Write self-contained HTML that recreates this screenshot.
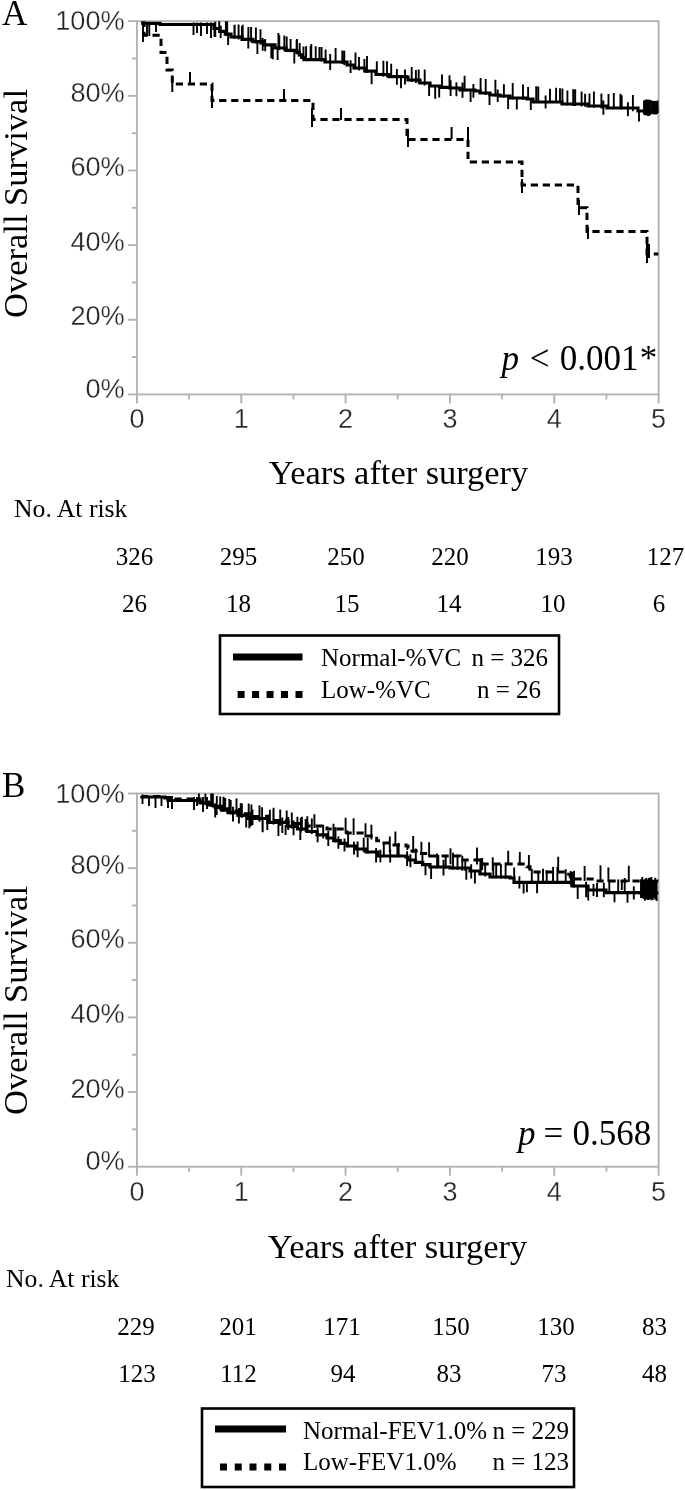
<!DOCTYPE html>
<html><head><meta charset="utf-8"><style>
html,body{margin:0;padding:0;background:#fff;width:685px;height:1490px;overflow:hidden}
svg{display:block} body{filter:grayscale(1)}
</style></head><body>
<svg width="685" height="1490" viewBox="0 0 685 1490">
<rect width="685" height="1490" fill="#fff"/>
<defs><clipPath id="ca"><rect x="136.9" y="21.2" width="521.7" height="373.2"/></clipPath><clipPath id="cb"><rect x="136.9" y="793.5" width="521.7" height="373.2"/></clipPath></defs>
<rect x="136.9" y="21.2" width="521.7" height="373.2" fill="none" stroke="#b2b2b2" stroke-width="1.9"/>
<line x1="127.9" y1="394.40" x2="136.9" y2="394.40" stroke="#b2b2b2" stroke-width="1.9"/>
<line x1="131.9" y1="357.08" x2="136.9" y2="357.08" stroke="#b2b2b2" stroke-width="1.9"/>
<line x1="127.9" y1="319.76" x2="136.9" y2="319.76" stroke="#b2b2b2" stroke-width="1.9"/>
<line x1="131.9" y1="282.44" x2="136.9" y2="282.44" stroke="#b2b2b2" stroke-width="1.9"/>
<line x1="127.9" y1="245.12" x2="136.9" y2="245.12" stroke="#b2b2b2" stroke-width="1.9"/>
<line x1="131.9" y1="207.80" x2="136.9" y2="207.80" stroke="#b2b2b2" stroke-width="1.9"/>
<line x1="127.9" y1="170.48" x2="136.9" y2="170.48" stroke="#b2b2b2" stroke-width="1.9"/>
<line x1="131.9" y1="133.16" x2="136.9" y2="133.16" stroke="#b2b2b2" stroke-width="1.9"/>
<line x1="127.9" y1="95.84" x2="136.9" y2="95.84" stroke="#b2b2b2" stroke-width="1.9"/>
<line x1="131.9" y1="58.52" x2="136.9" y2="58.52" stroke="#b2b2b2" stroke-width="1.9"/>
<line x1="127.9" y1="21.20" x2="136.9" y2="21.20" stroke="#b2b2b2" stroke-width="1.9"/>
<line x1="136.90" y1="394.4" x2="136.90" y2="403.4" stroke="#b2b2b2" stroke-width="1.9"/>
<line x1="189.07" y1="394.4" x2="189.07" y2="399.4" stroke="#b2b2b2" stroke-width="1.9"/>
<line x1="241.24" y1="394.4" x2="241.24" y2="403.4" stroke="#b2b2b2" stroke-width="1.9"/>
<line x1="293.41" y1="394.4" x2="293.41" y2="399.4" stroke="#b2b2b2" stroke-width="1.9"/>
<line x1="345.58" y1="394.4" x2="345.58" y2="403.4" stroke="#b2b2b2" stroke-width="1.9"/>
<line x1="397.75" y1="394.4" x2="397.75" y2="399.4" stroke="#b2b2b2" stroke-width="1.9"/>
<line x1="449.92" y1="394.4" x2="449.92" y2="403.4" stroke="#b2b2b2" stroke-width="1.9"/>
<line x1="502.09" y1="394.4" x2="502.09" y2="399.4" stroke="#b2b2b2" stroke-width="1.9"/>
<line x1="554.26" y1="394.4" x2="554.26" y2="403.4" stroke="#b2b2b2" stroke-width="1.9"/>
<line x1="606.43" y1="394.4" x2="606.43" y2="399.4" stroke="#b2b2b2" stroke-width="1.9"/>
<line x1="658.60" y1="394.4" x2="658.60" y2="403.4" stroke="#b2b2b2" stroke-width="1.9"/>
<text x="124.8" y="397.70" text-anchor="end" font-family='"Liberation Sans", sans-serif' font-size="27.2" fill="#262626" stroke="#fff" stroke-width="0.3">0%</text>
<text x="124.8" y="325.46" text-anchor="end" font-family='"Liberation Sans", sans-serif' font-size="27.2" fill="#262626" stroke="#fff" stroke-width="0.3">20%</text>
<text x="124.8" y="250.82" text-anchor="end" font-family='"Liberation Sans", sans-serif' font-size="27.2" fill="#262626" stroke="#fff" stroke-width="0.3">40%</text>
<text x="124.8" y="176.18" text-anchor="end" font-family='"Liberation Sans", sans-serif' font-size="27.2" fill="#262626" stroke="#fff" stroke-width="0.3">60%</text>
<text x="124.8" y="101.54" text-anchor="end" font-family='"Liberation Sans", sans-serif' font-size="27.2" fill="#262626" stroke="#fff" stroke-width="0.3">80%</text>
<text x="124.8" y="30.20" text-anchor="end" font-family='"Liberation Sans", sans-serif' font-size="27.2" fill="#262626" stroke="#fff" stroke-width="0.3">100%</text>
<text x="136.90" y="428.4" text-anchor="middle" font-family='"Liberation Sans", sans-serif' font-size="27" fill="#262626" stroke="#fff" stroke-width="0.3">0</text>
<text x="241.24" y="428.4" text-anchor="middle" font-family='"Liberation Sans", sans-serif' font-size="27" fill="#262626" stroke="#fff" stroke-width="0.3">1</text>
<text x="345.58" y="428.4" text-anchor="middle" font-family='"Liberation Sans", sans-serif' font-size="27" fill="#262626" stroke="#fff" stroke-width="0.3">2</text>
<text x="449.92" y="428.4" text-anchor="middle" font-family='"Liberation Sans", sans-serif' font-size="27" fill="#262626" stroke="#fff" stroke-width="0.3">3</text>
<text x="554.26" y="428.4" text-anchor="middle" font-family='"Liberation Sans", sans-serif' font-size="27" fill="#262626" stroke="#fff" stroke-width="0.3">4</text>
<text x="658.60" y="428.4" text-anchor="middle" font-family='"Liberation Sans", sans-serif' font-size="27" fill="#262626" stroke="#fff" stroke-width="0.3">5</text>
<rect x="136.9" y="793.5" width="521.7" height="373.1999999999998" fill="none" stroke="#b2b2b2" stroke-width="1.9"/>
<line x1="127.9" y1="1166.70" x2="136.9" y2="1166.70" stroke="#b2b2b2" stroke-width="1.9"/>
<line x1="131.9" y1="1129.38" x2="136.9" y2="1129.38" stroke="#b2b2b2" stroke-width="1.9"/>
<line x1="127.9" y1="1092.06" x2="136.9" y2="1092.06" stroke="#b2b2b2" stroke-width="1.9"/>
<line x1="131.9" y1="1054.74" x2="136.9" y2="1054.74" stroke="#b2b2b2" stroke-width="1.9"/>
<line x1="127.9" y1="1017.42" x2="136.9" y2="1017.42" stroke="#b2b2b2" stroke-width="1.9"/>
<line x1="131.9" y1="980.10" x2="136.9" y2="980.10" stroke="#b2b2b2" stroke-width="1.9"/>
<line x1="127.9" y1="942.78" x2="136.9" y2="942.78" stroke="#b2b2b2" stroke-width="1.9"/>
<line x1="131.9" y1="905.46" x2="136.9" y2="905.46" stroke="#b2b2b2" stroke-width="1.9"/>
<line x1="127.9" y1="868.14" x2="136.9" y2="868.14" stroke="#b2b2b2" stroke-width="1.9"/>
<line x1="131.9" y1="830.82" x2="136.9" y2="830.82" stroke="#b2b2b2" stroke-width="1.9"/>
<line x1="127.9" y1="793.50" x2="136.9" y2="793.50" stroke="#b2b2b2" stroke-width="1.9"/>
<line x1="136.90" y1="1166.6999999999998" x2="136.90" y2="1175.6999999999998" stroke="#b2b2b2" stroke-width="1.9"/>
<line x1="189.07" y1="1166.6999999999998" x2="189.07" y2="1171.6999999999998" stroke="#b2b2b2" stroke-width="1.9"/>
<line x1="241.24" y1="1166.6999999999998" x2="241.24" y2="1175.6999999999998" stroke="#b2b2b2" stroke-width="1.9"/>
<line x1="293.41" y1="1166.6999999999998" x2="293.41" y2="1171.6999999999998" stroke="#b2b2b2" stroke-width="1.9"/>
<line x1="345.58" y1="1166.6999999999998" x2="345.58" y2="1175.6999999999998" stroke="#b2b2b2" stroke-width="1.9"/>
<line x1="397.75" y1="1166.6999999999998" x2="397.75" y2="1171.6999999999998" stroke="#b2b2b2" stroke-width="1.9"/>
<line x1="449.92" y1="1166.6999999999998" x2="449.92" y2="1175.6999999999998" stroke="#b2b2b2" stroke-width="1.9"/>
<line x1="502.09" y1="1166.6999999999998" x2="502.09" y2="1171.6999999999998" stroke="#b2b2b2" stroke-width="1.9"/>
<line x1="554.26" y1="1166.6999999999998" x2="554.26" y2="1175.6999999999998" stroke="#b2b2b2" stroke-width="1.9"/>
<line x1="606.43" y1="1166.6999999999998" x2="606.43" y2="1171.6999999999998" stroke="#b2b2b2" stroke-width="1.9"/>
<line x1="658.60" y1="1166.6999999999998" x2="658.60" y2="1175.6999999999998" stroke="#b2b2b2" stroke-width="1.9"/>
<text x="124.8" y="1170.00" text-anchor="end" font-family='"Liberation Sans", sans-serif' font-size="27.2" fill="#262626" stroke="#fff" stroke-width="0.3">0%</text>
<text x="124.8" y="1097.76" text-anchor="end" font-family='"Liberation Sans", sans-serif' font-size="27.2" fill="#262626" stroke="#fff" stroke-width="0.3">20%</text>
<text x="124.8" y="1023.12" text-anchor="end" font-family='"Liberation Sans", sans-serif' font-size="27.2" fill="#262626" stroke="#fff" stroke-width="0.3">40%</text>
<text x="124.8" y="948.48" text-anchor="end" font-family='"Liberation Sans", sans-serif' font-size="27.2" fill="#262626" stroke="#fff" stroke-width="0.3">60%</text>
<text x="124.8" y="873.84" text-anchor="end" font-family='"Liberation Sans", sans-serif' font-size="27.2" fill="#262626" stroke="#fff" stroke-width="0.3">80%</text>
<text x="124.8" y="802.50" text-anchor="end" font-family='"Liberation Sans", sans-serif' font-size="27.2" fill="#262626" stroke="#fff" stroke-width="0.3">100%</text>
<text x="136.90" y="1200.6999999999998" text-anchor="middle" font-family='"Liberation Sans", sans-serif' font-size="27" fill="#262626" stroke="#fff" stroke-width="0.3">0</text>
<text x="241.24" y="1200.6999999999998" text-anchor="middle" font-family='"Liberation Sans", sans-serif' font-size="27" fill="#262626" stroke="#fff" stroke-width="0.3">1</text>
<text x="345.58" y="1200.6999999999998" text-anchor="middle" font-family='"Liberation Sans", sans-serif' font-size="27" fill="#262626" stroke="#fff" stroke-width="0.3">2</text>
<text x="449.92" y="1200.6999999999998" text-anchor="middle" font-family='"Liberation Sans", sans-serif' font-size="27" fill="#262626" stroke="#fff" stroke-width="0.3">3</text>
<text x="554.26" y="1200.6999999999998" text-anchor="middle" font-family='"Liberation Sans", sans-serif' font-size="27" fill="#262626" stroke="#fff" stroke-width="0.3">4</text>
<text x="658.60" y="1200.6999999999998" text-anchor="middle" font-family='"Liberation Sans", sans-serif' font-size="27" fill="#262626" stroke="#fff" stroke-width="0.3">5</text>
<text x="2" y="24.5" font-family='"Liberation Serif", serif' font-size="35" fill="#000">A</text>
<text x="2" y="797" font-family='"Liberation Serif", serif' font-size="35" fill="#000">B</text>
<text x="0" y="0" transform="translate(27,203.5) rotate(-90)" text-anchor="middle" font-family='"Liberation Serif", serif' font-size="34.5" fill="#000">Overall Survival</text>
<text x="0" y="0" transform="translate(27,1000.5) rotate(-90)" text-anchor="middle" font-family='"Liberation Serif", serif' font-size="34.5" fill="#000">Overall Survival</text>
<text x="398.5" y="484" text-anchor="middle" font-family='"Liberation Serif", serif' font-size="34.4" fill="#000">Years after surgery</text>
<text x="397.5" y="1258" text-anchor="middle" font-family='"Liberation Serif", serif' font-size="34.4" fill="#000">Years after surgery</text>
<text x="14" y="517" font-family='"Liberation Serif", serif' font-size="25.7" fill="#000">No. At risk</text>
<text x="6" y="1287" font-family='"Liberation Serif", serif' font-size="25.7" fill="#000">No. At risk</text>
<text x="134.5" y="564.7" text-anchor="middle" font-family='"Liberation Serif", serif' font-size="25" fill="#000">326</text>
<text x="238.5" y="564.7" text-anchor="middle" font-family='"Liberation Serif", serif' font-size="25" fill="#000">295</text>
<text x="346" y="564.7" text-anchor="middle" font-family='"Liberation Serif", serif' font-size="25" fill="#000">250</text>
<text x="450" y="564.7" text-anchor="middle" font-family='"Liberation Serif", serif' font-size="25" fill="#000">220</text>
<text x="554" y="564.7" text-anchor="middle" font-family='"Liberation Serif", serif' font-size="25" fill="#000">193</text>
<text x="665.5" y="564.7" text-anchor="middle" font-family='"Liberation Serif", serif' font-size="25" fill="#000">127</text>
<text x="134.5" y="612" text-anchor="middle" font-family='"Liberation Serif", serif' font-size="25" fill="#000">26</text>
<text x="238.5" y="612" text-anchor="middle" font-family='"Liberation Serif", serif' font-size="25" fill="#000">18</text>
<text x="347" y="612" text-anchor="middle" font-family='"Liberation Serif", serif' font-size="25" fill="#000">15</text>
<text x="449" y="612" text-anchor="middle" font-family='"Liberation Serif", serif' font-size="25" fill="#000">14</text>
<text x="553" y="612" text-anchor="middle" font-family='"Liberation Serif", serif' font-size="25" fill="#000">10</text>
<text x="659" y="612" text-anchor="middle" font-family='"Liberation Serif", serif' font-size="25" fill="#000">6</text>
<text x="136" y="1334.7" text-anchor="middle" font-family='"Liberation Serif", serif' font-size="25" fill="#000">229</text>
<text x="238" y="1334.7" text-anchor="middle" font-family='"Liberation Serif", serif' font-size="25" fill="#000">201</text>
<text x="342" y="1334.7" text-anchor="middle" font-family='"Liberation Serif", serif' font-size="25" fill="#000">171</text>
<text x="451" y="1334.7" text-anchor="middle" font-family='"Liberation Serif", serif' font-size="25" fill="#000">150</text>
<text x="556" y="1334.7" text-anchor="middle" font-family='"Liberation Serif", serif' font-size="25" fill="#000">130</text>
<text x="654.5" y="1334.7" text-anchor="middle" font-family='"Liberation Serif", serif' font-size="25" fill="#000">83</text>
<text x="137" y="1382" text-anchor="middle" font-family='"Liberation Serif", serif' font-size="25" fill="#000">123</text>
<text x="238.5" y="1382" text-anchor="middle" font-family='"Liberation Serif", serif' font-size="25" fill="#000">112</text>
<text x="343" y="1382" text-anchor="middle" font-family='"Liberation Serif", serif' font-size="25" fill="#000">94</text>
<text x="449" y="1382" text-anchor="middle" font-family='"Liberation Serif", serif' font-size="25" fill="#000">83</text>
<text x="554" y="1382" text-anchor="middle" font-family='"Liberation Serif", serif' font-size="25" fill="#000">73</text>
<text x="654.5" y="1382" text-anchor="middle" font-family='"Liberation Serif", serif' font-size="25" fill="#000">48</text>
<text x="501.5" y="370" font-family='"Liberation Serif", serif' font-size="35" fill="#000" font-style="italic">p</text>
<text x="529.7" y="370" font-family='"Liberation Serif", serif' font-size="35" fill="#000">&lt;</text>
<text x="559.8" y="370" font-family='"Liberation Serif", serif' font-size="35" fill="#000">0.001</text>
<text x="639.7" y="370" font-family='"Liberation Serif", serif' font-size="35" fill="#000">*</text>
<text x="518" y="1145" font-family='"Liberation Serif", serif' font-size="35" fill="#000" font-style="italic">p</text>
<text x="543.5" y="1145" font-family='"Liberation Serif", serif' font-size="35" fill="#000">=</text>
<text x="572.5" y="1145" font-family='"Liberation Serif", serif' font-size="35" fill="#000">0.568</text>
<rect x="220" y="635.5" width="339" height="78.5" fill="none" stroke="#000" stroke-width="2.6"/>
<rect x="233" y="653.5" width="69.5" height="7" fill="#000"/>
<rect x="237.60" y="691.0" width="7" height="7" fill="#000"/>
<rect x="252.07" y="691.0" width="7" height="7" fill="#000"/>
<rect x="266.55" y="691.0" width="7" height="7" fill="#000"/>
<rect x="281.02" y="691.0" width="7" height="7" fill="#000"/>
<rect x="295.50" y="691.0" width="7" height="7" fill="#000"/>
<text x="321" y="666" font-family='"Liberation Serif", serif' font-size="25" fill="#000">Normal-%VC</text>
<text x="321" y="698" font-family='"Liberation Serif", serif' font-size="25" fill="#000">Low-%VC</text>
<text x="548" y="666" text-anchor="end" font-family='"Liberation Serif", serif' font-size="25" fill="#000">n = 326</text>
<text x="541" y="698" text-anchor="end" font-family='"Liberation Serif", serif' font-size="25" fill="#000">n = 26</text>
<rect x="202" y="1408.5" width="372" height="78.5" fill="none" stroke="#000" stroke-width="2.6"/>
<rect x="215" y="1425.5" width="71" height="7" fill="#000"/>
<rect x="220.00" y="1463.5" width="7" height="7" fill="#000"/>
<rect x="234.75" y="1463.5" width="7" height="7" fill="#000"/>
<rect x="249.50" y="1463.5" width="7" height="7" fill="#000"/>
<rect x="264.25" y="1463.5" width="7" height="7" fill="#000"/>
<rect x="279.00" y="1463.5" width="7" height="7" fill="#000"/>
<text x="303" y="1439" font-family='"Liberation Serif", serif' font-size="25" fill="#000">Normal-FEV1.0%</text>
<text x="303" y="1470" font-family='"Liberation Serif", serif' font-size="25" fill="#000">Low-FEV1.0%</text>
<text x="569" y="1439" text-anchor="end" font-family='"Liberation Serif", serif' font-size="25" fill="#000">n = 229</text>
<text x="569" y="1470" text-anchor="end" font-family='"Liberation Serif", serif' font-size="25" fill="#000">n = 123</text>
<g clip-path="url(#ca)">
<path d="M141.3,23.4 160.0,23.4 160.0,23.5 160.0,23.5 160.0,23.5 160.0,24.5 194.0,24.5 214.0,24.5 214.0,24.5 214.0,28.5 219.7,28.5 219.7,31.3 225.3,31.3 225.3,34.2 231.0,34.2 231.0,34.2 231.0,37.0 242.0,37.0 242.0,39.3 253.0,39.3 253.0,39.3 253.0,41.6 264.0,41.6 264.0,44.8 275.0,44.8 275.0,44.8 275.0,48.0 286.0,48.0 286.0,50.3 297.0,50.3 297.0,50.3 297.0,52.6 299.3,52.6 299.3,54.9 301.7,54.9 301.7,57.3 304.0,57.3 304.0,57.3 304.0,59.6 320.0,59.6 325.0,59.6 325.0,59.6 325.0,62.0 340.0,62.0 347.0,62.0 347.0,65.0 354.0,65.0 354.0,65.0 354.0,68.0 365.0,68.0 365.0,71.2 376.0,71.2 376.0,71.2 376.0,74.5 389.0,74.5 389.0,74.5 389.0,76.7 406.0,76.7 406.0,77.0 408.0,77.0 408.0,77.0 408.0,80.0 420.0,80.0 420.0,80.0 420.0,83.0 430.0,83.0 430.0,83.0 430.0,86.0 440.0,86.0 440.0,86.0 440.0,87.4 450.0,87.4 450.0,87.4 450.0,88.0 460.0,88.0 460.0,88.0 460.0,90.0 475.0,90.0 475.0,90.0 475.0,91.0 480.0,91.0 480.0,91.0 480.0,93.0 490.0,93.0 490.0,93.0 490.0,95.0 500.0,95.0 500.0,95.0 500.0,96.0 510.0,96.0 510.0,96.0 510.0,98.0 527.0,98.0 527.0,98.0 527.0,99.0 532.0,99.0 533.0,99.0 533.0,99.0 533.0,102.0 560.0,102.0 562.0,102.0 562.0,102.0 562.0,104.0 588.0,104.0 588.0,104.0 588.0,106.0 607.0,106.0 607.0,106.0 607.0,108.0 620.0,108.0 638.0,108.0 638.0,108.0 638.0,111.0 658.0,111.0 658.0,111.0 658.0,111.5" fill="none" stroke="#000" stroke-width="3.2" stroke-linejoin="miter"/>
<path d="M215.3,21.4V36.9M219.2,17.4V32.1M225.9,18.9V35.4M228.1,34.6V45.0M234.7,24.8V38.8M238.6,24.6V39.6M241.9,26.2V40.3M248.4,27.0V41.6M251.1,26.9V42.2M257.4,41.9V54.0M260.5,29.3V44.8M265.2,39.0V51.3M271.3,45.9V58.2M277.6,47.5V59.9M279.3,35.3V49.9M284.3,35.4V50.9M290.6,39.0V52.3M296.6,39.9V53.5M299.7,43.1V56.3M303.5,46.5V60.1M310.6,46.1V60.6M311.3,44.1V60.6M319.4,47.0V60.6M321.6,47.0V61.4M325.6,49.5V63.0M330.2,54.0V70.0M335.6,48.1V63.0M342.3,50.6V64.0M344.3,50.8V64.9M350.6,60.2V72.9M355.5,52.6V69.4M359.0,56.9V70.5M364.4,59.0V72.1M367.0,55.9V72.8M371.6,72.2V84.3M376.8,61.2V75.6M383.4,60.7V76.8M387.0,61.2V77.4M391.2,63.8V77.7M396.9,68.9V84.8M401.0,75.9V88.3M405.0,69.5V84.5M411.7,66.9V81.9M415.9,69.9V83.0M418.7,69.6V83.7M424.7,69.6V85.4M429.1,84.7V96.1M435.2,85.7V98.7M439.2,86.3V97.4M442.0,74.6V88.5M449.5,75.2V89.0M450.6,80.3V95.9M456.4,82.3V96.2M462.5,82.6V97.8M464.6,75.7V91.3M470.6,89.7V102.1M473.4,83.9V97.8M480.6,78.0V94.1M485.7,78.9V95.1M489.5,93.9V105.1M495.4,79.8V96.5M497.7,89.4V102.1M503.9,84.2V97.8M508.1,96.6V109.0M512.7,82.9V99.2M516.8,97.4V109.4M523.0,84.6V99.8M528.1,86.9V100.0M530.8,98.0V109.9M536.2,86.3V103.0M538.3,86.5V103.0M545.6,95.6V108.4M550.0,88.8V103.0M556.1,87.7V103.0M560.0,88.3V103.0M562.4,88.4V105.0M567.4,90.6V105.4M573.2,89.2V105.9M575.2,89.3V106.0M581.6,91.4V106.5M585.1,93.7V106.8M589.5,93.4V107.2M593.9,91.4V107.6M601.4,93.5V108.4M603.4,100.5V114.7M608.5,93.9V109.0M613.8,92.9V109.0M620.4,93.8V109.1M621.7,95.2V109.3M627.9,102.3V116.3M632.9,95.1V111.2M639.0,110.0V121.4M220.7,25.6V38.1M227.2,21.3V36.1M234.4,24.7V38.7M242.7,24.8V40.4M248.3,32.8V48.4M255.9,27.6V43.5M262.7,38.1V50.7M272.8,46.4V59.3M278.4,32.9V49.7M286.7,36.5V51.4M294.3,51.0V63.5M297.0,38.9V53.6M306.1,46.2V60.6M315.7,46.3V60.6M193.5,22.5V35.0M197.0,22.5V33.0M201.0,22.5V36.0M207.0,22.5V34.0M211.0,22.5V38.0M214.5,22.5V37.0M143.0,24.0V42.0M147.0,24.0V36.0M149.3,24.0V36.0M156.0,25.0V32.0M644.0,100.6V114.5M645.0,100.3V115.2M646.0,99.5V115.0M647.0,100.4V115.3M648.0,99.6V116.0M649.0,100.7V116.0M650.0,99.7V114.9M652.0,100.6V114.2M653.0,100.9V113.2M654.0,101.1V114.4M655.0,101.7V113.4M656.0,100.7V114.4M657.0,101.4V114.1M658.0,100.6V113.1" stroke="#000" stroke-width="1.9" fill="none"/>
<path d="M141.3,22.8 144.0,22.5 144.0,35.3 161.0,35.3 161.0,52.5 167.0,52.5 167.0,70.0 172.3,70.0 172.3,84.0 212.0,84.0 212.0,100.6 313.0,100.6 313.0,119.4 407.0,119.4 407.0,139.4 468.0,139.4 468.0,162.0 522.0,162.0 522.0,185.0 578.0,185.0 578.0,207.7 587.0,207.7 587.0,231.4 647.0,231.4 647.0,254.0 658.5,254.0" fill="none" stroke="#000" stroke-width="3" stroke-dasharray="7.2,4.8" stroke-linejoin="miter"/>
<path d="M172.3,78.0V92.0M190.0,72.0V84.0M212.0,88.0V108.0M284.0,89.0V101.0M312.0,108.0V127.0M341.0,108.0V120.0M408.0,129.0V147.0M451.6,127.0V139.0M468.0,127.0V147.0M522.0,179.0V193.0M579.0,200.0V215.0M588.0,227.0V239.0M647.0,239.0V263.0M649.0,244.0V258.0" stroke="#000" stroke-width="2" fill="none"/>
</g>
<g clip-path="url(#cb)">
<path d="M141.5,796.0 142.0,796.0 142.0,796.0 142.0,796.5 165.0,796.5 165.0,796.5 165.0,797.5 176.0,797.5 176.0,797.5 176.0,799.0 193.0,799.0 200.0,799.0 200.0,799.0 200.0,802.0 209.0,802.0 209.0,802.0 209.0,804.0 215.3,804.0 215.3,806.3 221.7,806.3 221.7,808.7 228.0,808.7 228.0,808.7 228.0,811.0 238.0,811.0 238.0,813.8 248.0,813.8 248.0,813.8 248.0,816.5 268.0,816.5 268.0,816.5 268.0,820.5 288.0,820.5 288.0,820.5 288.0,823.5 307.0,823.5 307.0,823.5 307.0,826.0 327.0,826.0 327.0,826.0 327.0,829.0 347.0,829.0 347.0,829.0 347.0,833.0 366.0,833.0 366.0,833.0 366.0,836.0 371.3,836.0 371.3,838.3 376.7,838.3 376.7,840.7 382.0,840.7 382.0,840.7 382.0,843.0 394.0,843.0 394.0,843.0 394.0,845.0 406.0,845.0 406.0,845.0 406.0,846.0 408.0,846.0 408.0,848.5 410.0,848.5 410.0,848.5 410.0,851.0 420.0,851.0 420.0,853.5 430.0,853.5 430.0,853.5 430.0,856.0 450.0,856.0 460.0,856.0 460.0,856.0 460.0,860.0 480.0,860.0 480.0,860.0 480.0,864.0 524.0,864.0 527.0,864.0 527.0,866.7 530.0,866.7 530.0,869.3 533.0,869.3 533.0,869.3 533.0,872.0 567.0,872.0 568.7,872.0 568.7,874.3 570.3,874.3 570.3,876.7 572.0,876.7 572.0,876.7 572.0,879.0 598.0,879.0 598.0,879.0 598.0,881.0 640.0,881.0 658.5,881.0" fill="none" stroke="#000" stroke-width="3" stroke-dasharray="7.2,4.8" stroke-linejoin="miter"/>
<path d="M141.5,796.5 142.0,796.5 142.0,796.5 142.0,797.0 165.0,797.0 165.0,797.0 165.0,798.0 168.0,798.0 168.0,798.0 168.0,800.5 193.0,800.5 200.0,800.5 200.0,800.5 200.0,803.0 209.0,803.0 209.0,803.0 209.0,805.0 215.3,805.0 215.3,807.5 221.7,807.5 221.7,810.1 228.0,810.1 228.0,810.1 228.0,812.6 238.0,812.6 238.0,815.5 248.0,815.5 248.0,815.5 248.0,818.5 268.0,818.5 268.0,818.5 268.0,822.4 288.0,822.4 288.0,822.4 288.0,826.4 297.5,826.4 297.5,829.0 307.0,829.0 307.0,829.0 307.0,831.5 317.0,831.5 317.0,834.8 327.0,834.8 327.0,834.8 327.0,838.0 333.7,838.0 333.7,840.7 340.3,840.7 340.3,843.3 347.0,843.3 347.0,843.3 347.0,846.0 356.5,846.0 356.5,849.0 366.0,849.0 366.0,849.0 366.0,852.0 378.0,852.0 378.0,852.0 378.0,856.0 397.0,856.0 406.0,856.0 406.0,856.0 406.0,857.0 408.0,857.0 408.0,857.0 408.0,860.0 415.3,860.0 415.3,862.3 422.7,862.3 422.7,864.7 430.0,864.7 430.0,864.7 430.0,867.0 450.0,867.0 450.0,867.0 450.0,868.0 470.0,868.0 470.0,868.0 470.0,871.0 480.0,871.0 480.0,874.0 490.0,874.0 490.0,874.0 490.0,877.0 510.0,877.0 510.0,877.0 510.0,878.0 514.0,878.0 514.0,878.0 514.0,882.4 570.0,882.4 572.0,882.4 572.0,882.4 572.0,886.0 588.0,886.0 588.0,886.0 588.0,890.0 605.0,890.0 606.0,890.0 606.0,890.0 606.0,892.7 640.0,892.7 640.0,893.0 658.5,893.0" fill="none" stroke="#000" stroke-width="3.2" stroke-linejoin="miter"/>
<path d="M142.5,796.0V804.0M149.0,796.0V806.0M155.5,796.0V808.0M161.5,796.0V806.0M168.0,796.0V808.0M172.0,796.0V809.0M194.0,797.0V810.0M197.0,797.0V806.0M203.0,797.0V812.0M207.0,797.0V809.0M212.9,792.9V807.5M216.8,796.0V809.1M220.2,796.6V810.5M229.3,798.9V814.0M233.0,806.8V821.4M238.9,808.0V823.6M240.7,803.0V817.3M249.3,817.8V828.2M250.8,811.8V826.3M259.5,805.4V821.7M262.7,820.4V832.3M267.3,814.6V829.9M273.4,809.4V824.5M280.2,809.5V825.8M282.3,817.6V832.9M286.7,810.6V827.1M293.6,820.5V835.3M297.4,816.8V829.9M301.9,816.7V831.1M307.3,816.2V832.6M311.8,818.6V834.1M317.6,827.6V842.3M323.2,824.8V837.8M328.3,831.0V846.0M335.5,827.2V842.4M338.4,836.4V848.7M344.5,838.5V851.5M348.1,833.3V847.3M354.0,841.8V854.6M357.6,841.4V857.3M363.7,837.7V852.3M367.7,837.8V853.6M376.1,848.1V862.6M380.4,849.8V862.2M383.8,843.0V857.0M390.2,849.4V862.6M397.4,844.0V857.0M398.7,843.1V857.2M407.1,851.2V866.0M410.4,854.2V867.3M415.8,848.6V863.5M422.4,852.1V865.6M425.5,864.6V875.2M431.1,866.1V878.9M437.1,853.5V868.4M443.5,859.7V875.6M445.7,854.7V868.8M453.0,852.7V869.4M457.5,854.8V870.1M462.3,855.7V870.8M466.3,869.4V879.8M471.2,864.3V878.4M474.9,871.5V883.6M480.4,858.5V875.1M485.2,863.5V876.6M493.3,863.2V878.2M496.2,864.1V878.3M500.9,864.2V878.5M505.6,862.4V878.8M514.2,867.4V883.4M519.4,876.2V888.6M523.6,881.4V893.5M526.9,881.4V892.3M531.8,868.8V883.4M537.1,881.4V893.2M543.0,868.7V883.4M546.7,870.2V883.4M553.1,867.1V883.4M557.4,866.7V883.4M565.7,869.3V883.4M570.8,871.1V884.9M574.0,870.7V887.5M577.7,886.4V898.9M586.1,881.7V897.3M588.2,889.0V900.6M593.5,883.9V896.1M597.0,883.1V896.9M603.8,882.7V897.3M609.3,880.5V893.7M614.5,891.8V902.2M618.2,879.4V893.8M624.7,877.9V893.9M627.5,891.9V902.7M633.8,886.3V899.5M205.4,791.2V805.2M211.2,790.3V806.9M216.7,801.3V814.9M223.5,796.7V811.8M230.7,800.0V814.4M241.9,803.6V817.7M246.2,817.0V827.4M251.4,804.6V820.2M262.5,820.3V831.0M269.9,809.8V823.8M273.4,809.7V824.5M278.4,823.5V836.0M285.6,824.9V835.0M291.8,812.6V828.4M300.3,828.7V840.1M305.6,819.1V832.1M198.9,788.6V802.5M215.2,805.3V817.4M225.2,797.9V811.0M236.5,798.6V814.3M248.7,803.6V817.6M252.5,809.6V825.3M262.1,807.2V820.3M273.6,807.7V822.3M288.2,817.1V829.9M300.8,817.7V832.7M314.4,814.3V828.1M323.2,827.4V838.4M333.5,823.8V836.8M345.6,817.7V833.7M353.6,818.2V835.0M365.5,823.2V836.9M371.4,824.7V839.4M389.8,836.4V852.2M395.4,831.5V846.1M413.2,835.9V852.8M421.4,841.7V854.9M429.1,842.2V856.8M438.3,855.0V867.7M450.5,848.2V864.2M465.3,860.1V871.1M477.0,847.6V864.4M482.2,857.9V870.1M492.7,857.2V870.8M508.2,850.7V865.0M519.8,852.0V865.0M528.9,854.9V869.3M538.3,871.0V881.4M553.0,871.0V881.6M558.2,856.7V873.0M572.0,872.1V885.9M584.6,866.1V881.0M600.5,865.3V882.0M608.4,867.5V882.0M621.8,880.0V890.1M628.8,865.8V882.0M641.0,879.3V898.1M642.3,877.1V898.2M643.6,879.8V898.8M644.9,879.2V900.7M646.2,878.0V898.8M647.5,879.9V899.9M648.8,877.8V900.1M650.1,877.9V898.8M651.4,877.0V900.3M652.7,879.7V899.9M654.0,879.8V898.1M655.3,877.7V899.4M656.6,879.9V900.9" stroke="#000" stroke-width="1.9" fill="none"/>
</g>
</svg>
</body></html>
